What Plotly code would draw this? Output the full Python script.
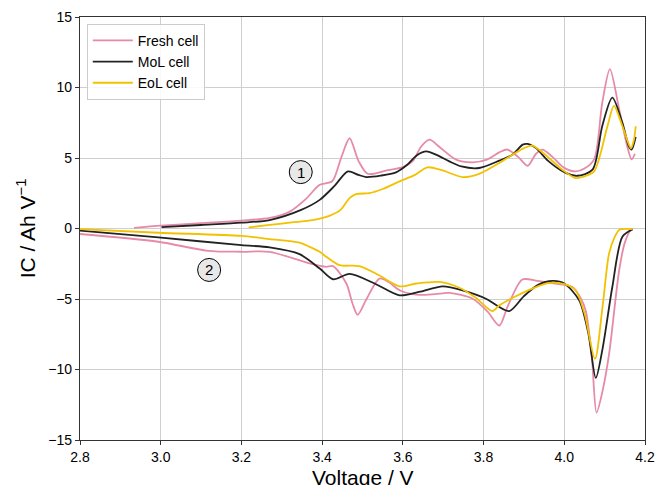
import plotly.graph_objects as go

# ---- data ----
fresh_ch_v = [2.934, 3.0, 3.1, 3.2, 3.27, 3.32, 3.36, 3.394, 3.425, 3.447, 3.468, 3.49, 3.513, 3.56, 3.6,
              3.625, 3.645, 3.666, 3.69, 3.732, 3.773, 3.81, 3.839, 3.859, 3.885, 3.909, 3.93, 3.946, 3.97,
              4.0, 4.028, 4.05, 4.074, 4.094, 4.113, 4.136, 4.156, 4.167, 4.175]
fresh_ch_ic = [0.05, 0.2, 0.38, 0.56, 0.75, 1.2, 2.1, 3.1, 3.35, 5.0, 6.4, 4.8, 3.88, 4.12, 4.35,
               4.8, 5.8, 6.3, 5.8, 4.88, 4.69, 4.9, 5.4, 5.6, 5.1, 4.45, 5.3, 5.6, 5.1,
               4.3, 4.05, 4.25, 4.9, 8.9, 11.3, 8.45, 5.83, 4.9, 5.3]

mol_ch_v = [3.002, 3.1, 3.2, 3.27, 3.348, 3.394, 3.43, 3.464, 3.49, 3.509, 3.545, 3.583, 3.61, 3.635,
            3.658, 3.685, 3.715, 3.745, 3.789, 3.839, 3.872, 3.897, 3.909, 3.93, 3.96, 4.0, 4.032,
            4.07, 4.094, 4.119, 4.144, 4.16, 4.167, 4.177]
mol_ch_ic = [0.1, 0.25, 0.41, 0.6, 1.32, 2.03, 3.0, 4.05, 3.8, 3.65, 3.75, 3.98, 4.5, 5.2,
             5.47, 5.2, 4.76, 4.4, 4.29, 4.81, 5.24, 5.95, 6.0, 5.7, 4.8, 4.0, 3.74,
             4.17, 7.26, 9.28, 7.5, 5.83, 5.6, 6.5]

eol_ch_v = [3.218, 3.27, 3.33, 3.38, 3.418, 3.445, 3.468, 3.484, 3.517, 3.55, 3.592, 3.63, 3.661, 3.7,
            3.748, 3.789, 3.839, 3.87, 3.9, 3.921, 3.95, 3.995, 4.028, 4.05, 4.074, 4.107, 4.123,
            4.144, 4.165, 4.172, 4.177]
eol_ch_ic = [0.08, 0.25, 0.45, 0.62, 0.9, 1.3, 2.15, 2.44, 2.51, 2.8, 3.34, 3.8, 4.34, 4.1,
             3.65, 3.88, 4.65, 5.2, 5.7, 5.88, 5.3, 4.17, 3.58, 3.7, 4.05, 7.26, 8.7,
             7.26, 5.7, 6.2, 7.25]

fresh_dis_v = [2.8, 2.994, 3.117, 3.2, 3.27, 3.369, 3.41, 3.427, 3.46, 3.475, 3.488, 3.51, 3.542,
               3.565, 3.592, 3.633, 3.68, 3.715, 3.773, 3.81, 3.839, 3.86, 3.896, 3.93, 3.963,
               4.0, 4.02, 4.04, 4.053, 4.068, 4.08, 4.095, 4.111, 4.136, 4.15, 4.165, 4.169]
fresh_dis_ic = [-0.39, -0.94, -1.58, -1.65, -1.65, -2.48, -2.72, -2.67, -3.9, -5.3, -6.12, -5.0, -3.55,
                -3.8, -4.38, -4.69, -4.65, -4.57, -4.98, -5.9, -6.88, -5.5, -3.62, -3.7, -3.86,
                -4.0, -4.15, -4.9, -5.81, -9.0, -13.06, -11.5, -8.9, -2.96, -1.0, -0.1, -0.06]

mol_dis_v = [2.8, 2.994, 3.2, 3.27, 3.344, 3.394, 3.427, 3.468, 3.53, 3.592, 3.64, 3.699, 3.75,
             3.806, 3.835, 3.864, 3.9, 3.935, 3.971, 4.0, 4.037, 4.06, 4.078, 4.095, 4.119,
             4.144, 4.169]
mol_dis_ic = [-0.15, -0.63, -1.18, -1.34, -1.82, -2.84, -3.6, -3.22, -3.9, -4.74, -4.5, -4.1, -4.4,
              -4.98, -5.5, -5.86, -4.8, -4.0, -3.72, -3.9, -5.1, -7.5, -10.6, -8.5, -4.15,
              -0.58, -0.06]

eol_dis_v = [2.8, 2.994, 3.2, 3.27, 3.344, 3.369, 3.394, 3.41, 3.443, 3.492, 3.54, 3.592, 3.633,
             3.691, 3.74, 3.78, 3.822, 3.839, 3.876, 3.921, 3.963, 4.0, 4.028, 4.05, 4.076, 4.095,
             4.111, 4.125, 4.136, 4.169]
eol_dis_ic = [-0.05, -0.3, -0.53, -0.75, -1.01, -1.3, -1.65, -2.0, -2.6, -2.67, -3.3, -4.1, -3.9,
              -3.79, -4.2, -4.9, -5.86, -5.45, -4.86, -4.26, -3.86, -3.95, -4.38, -6.0, -9.25, -5.5,
              -1.77, -0.6, -0.1, -0.05]

series_names = ["Fresh cell", "MoL cell", "EoL cell"]
colors = ["#E68AA8", "#222222", "#F2C200"]

x_ticks = [2.8, 3.0, 3.2, 3.4, 3.6, 3.8, 4.0, 4.2]
y_ticks = [-15, -10, -5, 0, 5, 10, 15]

labels = [("1", 3.347, 4.0), ("2", 3.12, -2.94)]

x_title = "Voltage / V"
y_title = "IC / Ah V<sup>\u22121</sup>"

FONT = "Liberation Sans, Arial, sans-serif"

fig = go.Figure()
charges = [(fresh_ch_v, fresh_ch_ic), (mol_ch_v, mol_ch_ic), (eol_ch_v, eol_ch_ic)]
discharges = [(fresh_dis_v, fresh_dis_ic), (mol_dis_v, mol_dis_ic), (eol_dis_v, eol_dis_ic)]

for i, name in enumerate(series_names):
    fig.add_trace(go.Scatter(x=charges[i][0], y=charges[i][1], mode="lines", name=name,
                             line=dict(color=colors[i], width=1.8, shape="spline", smoothing=0.8),
                             legendgroup=name))
for i, name in enumerate(series_names):
    fig.add_trace(go.Scatter(x=discharges[i][0], y=discharges[i][1], mode="lines", name=name,
                             line=dict(color=colors[i], width=1.8, shape="spline", smoothing=0.8),
                             legendgroup=name, showlegend=False))

for txt, lx, ly in labels:
    fig.add_shape(type="circle", xref="x", yref="y", xsizemode="pixel", ysizemode="pixel",
                  xanchor=lx, yanchor=ly, x0=-11.5, x1=11.5, y0=-11.5, y1=11.5,
                  fillcolor="#E8E8E8", line=dict(color="black", width=1), layer="above")
    fig.add_annotation(x=lx, y=ly, text=txt, showarrow=False,
                       font=dict(family=FONT, size=15, color="black"))

# axis titles as annotations (for exact placement)
fig.add_annotation(x=0.5, y=0, xref="paper", yref="paper", xanchor="center", yanchor="top",
                   yshift=-24, text=x_title, showarrow=False,
                   font=dict(family=FONT, size=21, color="black"))
fig.add_annotation(x=-0.096, y=0.5, xref="paper", yref="paper", xanchor="center", yanchor="middle",
                   textangle=-90, text=y_title, showarrow=False,
                   font=dict(family=FONT, size=21, color="black"))

axis_common = dict(showgrid=True, gridcolor="#CFCFCF", gridwidth=1, zeroline=False,
                   showline=True, linecolor="#333333", linewidth=1.2, mirror=True,
                   ticks="outside", ticklen=4, tickwidth=1.2, tickcolor="#333333",
                   automargin=False,
                   tickfont=dict(family=FONT, size=14, color="black"))

fig.update_xaxes(range=[2.8, 4.2], tickvals=x_ticks, ticktext=[f"{t:.1f}" for t in x_ticks],
                 **axis_common)
fig.update_yaxes(range=[-15, 15], tickvals=y_ticks,
                 ticktext=[("\u2212" + str(-t)) if t < 0 else str(t) for t in y_ticks],
                 **axis_common)

fig.update_layout(
    width=655, height=485,
    margin=dict(l=80, r=10, t=17, b=45),
    plot_bgcolor="white", paper_bgcolor="white",
    showlegend=True,
    legend=dict(x=0.012, y=0.984, xanchor="left", yanchor="top",
                bgcolor="rgba(255,255,255,0.85)", bordercolor="#CCCCCC", borderwidth=1,
                font=dict(family=FONT, size=14, color="black"),
                itemwidth=40, tracegroupgap=0),
)

fig.write_html("out.html")
